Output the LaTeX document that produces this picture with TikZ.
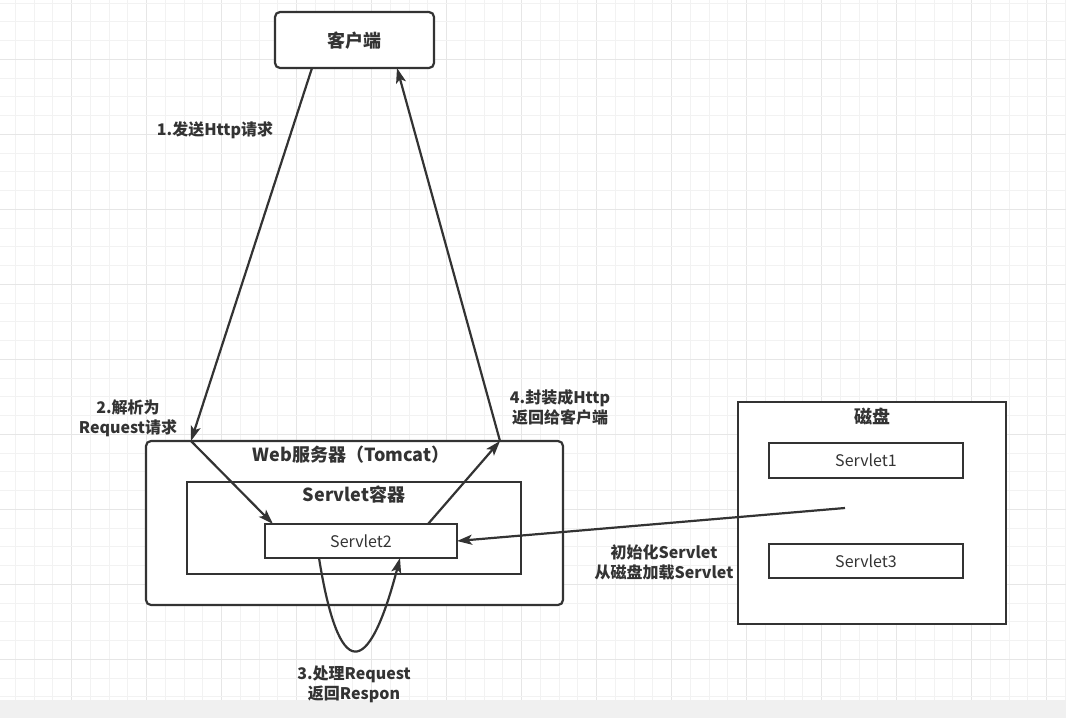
\documentclass[tikz,border=0pt]{standalone}
\usepackage{fontspec}
\setmainfont{Noto Sans CJK SC}
\usetikzlibrary{arrows.meta,calc}
\definecolor{ln}{HTML}{333333}
\definecolor{gminor}{HTML}{F2F2F2}
\definecolor{gmajor}{HTML}{E6E6E6}
\definecolor{band}{HTML}{F0F0F0}
\tikzset{
  box/.style={draw=ln, line width=2.2pt, fill=white, inner sep=0pt, outer sep=0pt},
  rbox/.style={box, rounded corners=5pt},
  ttl/.style={text=ln, font=\fontsize{18}{22}\selectfont\bfseries, inner sep=0pt},
  lbl/.style={text=ln, font=\fontsize{16}{20}\selectfont\bfseries, align=center, inner sep=0pt},
  sv/.style={text=ln, font=\fontsize{16}{20}\selectfont},
  conn/.style={draw=ln, line width=2.2pt, -{Stealth[length=15pt,width=10pt,inset=3.5pt]}}
}
\begin{document}
\begin{tikzpicture}[x=1pt,y=-1pt]
\useasboundingbox (0,0) rectangle (1066,718);
\fill[white] (0,0) rectangle (1066,718);
% grid
\foreach \k in {0,...,56}{
  \pgfmathsetmacro{\gx}{15.45+18.75*\k}
  \pgfmathtruncatemacro{\m}{mod(\k,4)}
  \ifnum\m=3
    \draw[gmajor, line width=1pt] (\gx,0) -- (\gx,700);
  \else
    \draw[gminor, line width=1pt] (\gx,0) -- (\gx,700);
  \fi
}
\foreach \k in {0,...,37}{
  \pgfmathsetmacro{\gy}{3.05+18.75*\k}
  \pgfmathtruncatemacro{\m}{mod(\k,4)}
  \ifnum\m=3
    \draw[gmajor, line width=1pt] (0,\gy) -- (1066,\gy);
  \else
    \draw[gminor, line width=1pt] (0,\gy) -- (1066,\gy);
  \fi
}
\fill[band] (0,700) rectangle (1066,718);

% boxes
\node[rbox, minimum width=159pt, minimum height=56pt] (client) at (354.5,40) {};
\node[ttl] (clientt) at (354.5,41) {客户端};
\node[rbox, minimum width=417pt, minimum height=164pt] (web) at (354.5,523) {};
\node[ttl] (webt) at (351,455) {Web服务器（Tomcat）};
\node[box, minimum width=334pt, minimum height=92pt] (cont) at (354,528) {};
\node[ttl] (contt) at (354,495) {Servlet容器};
\node[box, minimum width=192pt, minimum height=34pt] (s2) at (361,541) {};
\node[sv] (s2t) at (361,541) {Servlet2};
\node[box, minimum width=268pt, minimum height=222pt] (disk) at (872,513) {};
\node[ttl] (diskt) at (872,416) {磁盘};
\node[box, minimum width=194pt, minimum height=35pt] (s1) at (866,460.5) {};
\node[sv] at (866,460) {Servlet1};
\node[box, minimum width=194pt, minimum height=34pt] (s3) at (866,561) {};
\node[sv] at (866,561) {Servlet3};

% labels
\node[lbl] (l1) at (215,130) {1.发送Http请求};
\node[lbl] (l2) at (128,418) {2.解析为\\Request请求};
\node[lbl] (l4) at (560,407) {4.封装成Http\\返回给客户端};
\node[lbl] (l3) at (354,684) {3.处理Request\\返回Respon};
\node[lbl] (l5) at (664,562) {初始化Servlet\\从磁盘加载Servlet};

% connectors
\coordinate (wl) at ([xshift=45pt]web.north west);
\coordinate (wr) at ([xshift=-63pt]web.north east);
\coordinate (dp) at (845,508);
\draw[conn] ([xshift=37pt]client.south west) -- (wl);
\draw[conn] (wl) -- ([xshift=8pt]s2.north west);
\draw[conn] ([xshift=-29pt]s2.north east) -- (wr);
\draw[conn] (wr) -- ([xshift=-37pt]client.south east);
\draw[conn] ([xshift=54pt]s2.south west) .. controls (338.7,681) and (368,681) .. ([xshift=135pt]s2.south west);
\draw[conn] (dp) -- (s2.east);
\end{tikzpicture}
\end{document}
